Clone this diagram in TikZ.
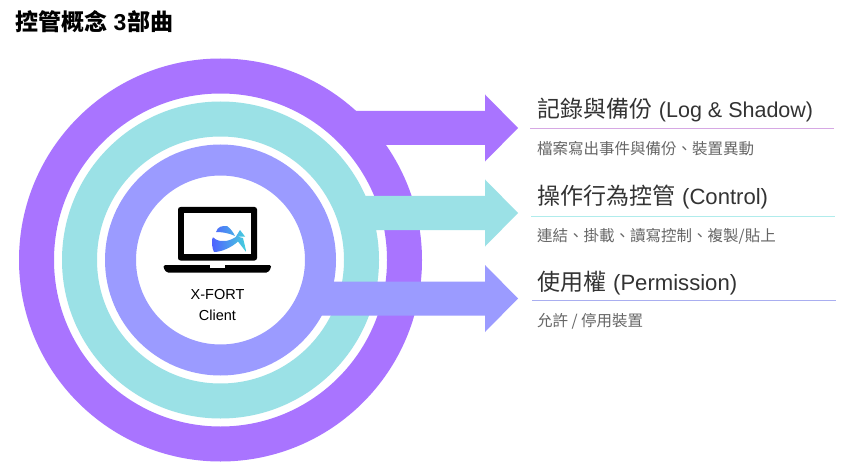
\documentclass[tikz,border=0pt]{standalone}
\usepackage{fontspec}
\setmainfont{Liberation Sans}
\newfontfamily\cjk{Noto Sans CJK TC}
\definecolor{ringP}{HTML}{A974FF}
\definecolor{ringT}{HTML}{9BE1E6}
\definecolor{ringB}{HTML}{9B9BFF}
\definecolor{lineP}{HTML}{D6A8E4}
\definecolor{lineT}{HTML}{B0ECEC}
\definecolor{lineB}{HTML}{A9AEF0}
\definecolor{headC}{HTML}{333333}
\definecolor{subC}{HTML}{666666}
\definecolor{logoL}{HTML}{4F62FF}
\definecolor{logoR}{HTML}{45D2DC}
\tikzset{
  x=1pt,y=-1pt,
  headtext/.style={anchor=base west,inner sep=0pt,text=headC,font=\fontsize{22.1}{24}\selectfont},
  subtext/.style={anchor=base west,inner sep=0pt,text=subC,font=\fontsize{15.5}{18}\selectfont},
  clienttext/.style={anchor=base,inner sep=0pt,text=black,font=\fontsize{14.5}{17}\selectfont},
  rule/.style={line width=1pt},
}
\newcommand{\cjkhead}[1]{{\cjk\fontsize{23}{24}\selectfont #1}\kern0.8pt\relax}
\newcommand{\ringfill}[3]{\fill[#1,even odd rule] (220.5,260) circle[radius=#2] (220.5,260) circle[radius=#3];}
\newcommand{\arrowfill}[3]{\fill[#1] (#2,#3-17) -- (485,#3-17) -- (485,#3-33.5) -- (518,#3) -- (485,#3+33.5) -- (485,#3+17) -- (#2,#3+17) -- cycle;}
\begin{document}
\begin{tikzpicture}
\useasboundingbox (0,0) rectangle (850,462);
\fill[white] (0,0) rectangle (850,462);
% rings and arrows
\ringfill{ringP}{201.5}{166.5}
\arrowfill{ringP}{350}{128}
\ringfill{ringT}{158.5}{123.5}
\arrowfill{ringT}{350}{213}
\ringfill{ringB}{115.5}{84.5}
\arrowfill{ringB}{315}{298.5}
% laptop
\fill[black,rounded corners=2.5pt] (178,207) rectangle (257,260.5);
\fill[white] (184,213.5) rectangle (250.5,254);
\fill[black,rounded corners=1.5pt] (163.5,265) -- (271,265) -- (271,268) -- (268,272.5) -- (166.5,272.5) -- (163.5,268) -- cycle;
\fill[white] (210,265) -- (224.5,265) -- (224.5,267.5) -- (210,267.5) -- cycle;
% logo
\shade[left color=logoL,right color=logoR]
  (216,232) .. controls (218,226) and (222,226) .. (227,226)
  .. controls (231,229) and (233,232) .. (235,236)
  .. controls (229,233) and (222,232) .. (216,232) -- cycle
  (240,230) -- (245,236.5) -- (236,236.5) -- cycle
  (212,240) .. controls (212,238) and (213,236) .. (215,239)
  .. controls (222,243) and (230,241) .. (236.5,236.5)
  -- (243,238) -- (246.5,252.5) -- (238,241.5)
  .. controls (232,247) and (222,252) .. (214,252)
  .. controls (212,248) and (212,244) .. (212,240) -- cycle;
% client label
\node[clienttext] (clientA) at (217.5,299) {X-FORT};
\node[clienttext] (clientB) at (217.5,320) {Client};
% title
\node[anchor=base west,inner sep=0pt,text=black,font=\fontsize{23}{26}\selectfont\bfseries] (title) at (15,31) {{\cjk 控管概念} 3\kern1pt\relax{\cjk 部曲}};
% section 1
\node[headtext,font=\fontsize{21.5}{24}\selectfont] (h1) at (537,118) {\cjkhead{記錄與備份} (Log \& Shadow)};
\coordinate (r1a) at (530,128.5); \coordinate (r1b) at (834,128.5);
\draw[rule,lineP] (r1a) -- (r1b);
\node[subtext] (s1) at (537,154.5) {\cjk 檔案寫出事件與備份、裝置異動};
% section 2
\node[headtext] (h2) at (537,205) {\cjkhead{操作行為控管} (Control)};
\coordinate (r2a) at (531,216.5); \coordinate (r2b) at (835,216.5);
\draw[rule,lineT] (r2a) -- (r2b);
\node[subtext] (s2) at (537,241) {\cjk 連結、掛載、讀寫控制、複製/貼上};
% section 3
\node[headtext] (h3) at (537,290) {\cjkhead{使用權} (Permission)};
\coordinate (r3a) at (532,300.5); \coordinate (r3b) at (836,300.5);
\draw[rule,lineB] (r3a) -- (r3b);
\node[subtext] (s3) at (537,326) {\cjk 允許 / 停用裝置};
\end{tikzpicture}
\end{document}
